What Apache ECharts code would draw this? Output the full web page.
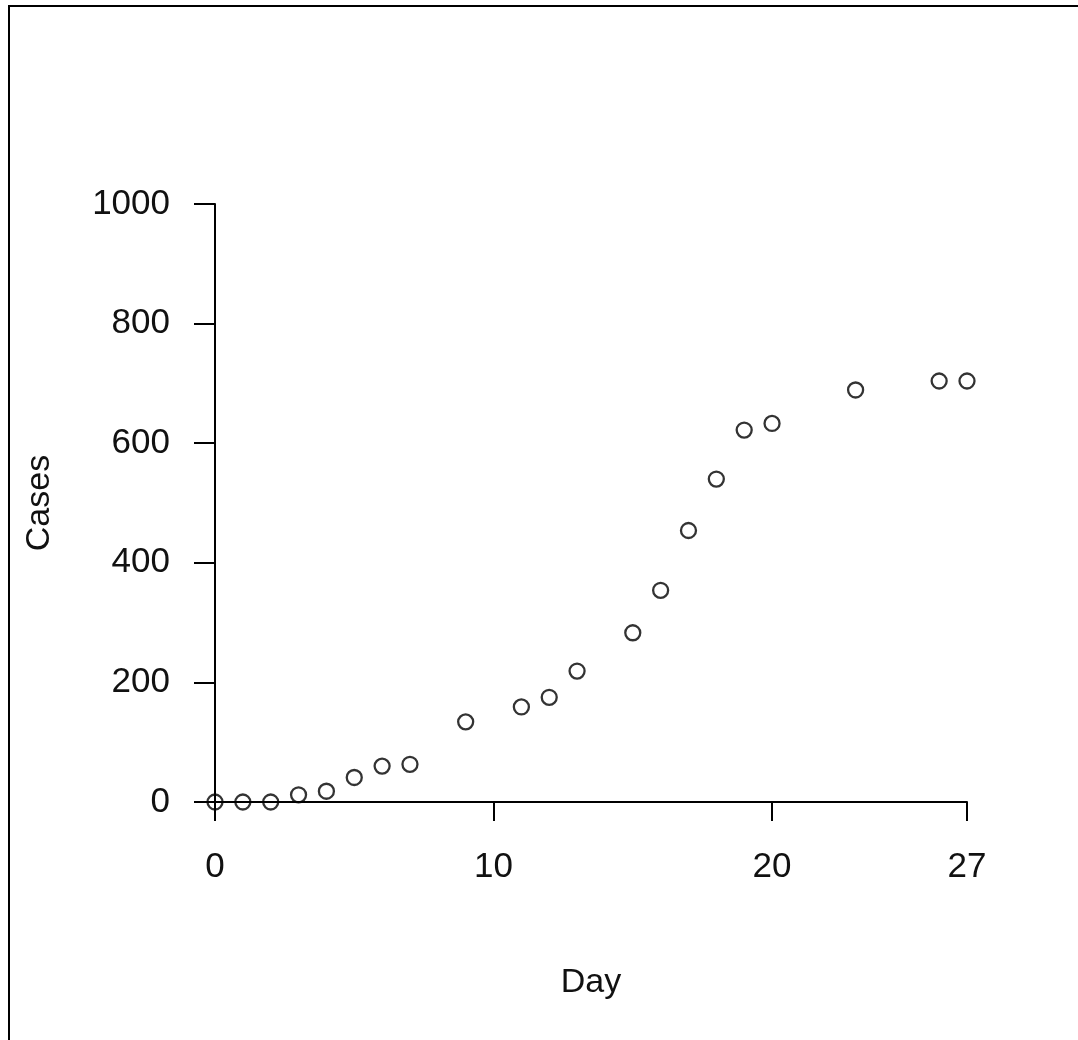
<!DOCTYPE html>
<html>
<head>
<meta charset="utf-8">
<script src="https://cdn.jsdelivr.net/npm/echarts@6/dist/echarts.min.js"></script>
<style>
  html, body { margin: 0; padding: 0; background: #fff; }
  #chart { width: 1078px; height: 1040px; }
</style>
</head>
<body>
<div id="chart"></div>
<script>
// Cumulative cases by day
const days  = [0, 1, 2, 3, 4, 5, 6, 7, 9, 11, 12, 13, 15, 16, 17, 18, 19, 20, 23, 26, 27];
const cases = [0, 0, 0, 12, 18, 41, 60, 63, 134, 159, 175, 219, 283, 354, 454, 540, 622, 633, 689, 704, 704];

// Axis ticks
const xTicks = [0, 10, 20, 27];
const yTicks = [0, 200, 400, 600, 800, 1000];

const points = days.map((d, i) => [d, cases[i]]);
const font = 'Liberation Sans, Arial, sans-serif';

const chart = echarts.init(document.getElementById('chart'), null, { renderer: 'canvas' });
chart.setOption({
  backgroundColor: '#ffffff',
  animation: false,
  grid: { left: 215, right: 111, top: 204, bottom: 238, containLabel: false },
  graphic: [{
    type: 'rect',
    silent: true,
    shape: { x: 9, y: 6, width: 1300, height: 1300 },
    style: { fill: 'none', stroke: '#000', lineWidth: 2 }
  }],
  xAxis: {
    type: 'value',
    min: 0,
    max: 27,
    name: 'Day',
    nameLocation: 'middle',
    nameGap: 164,
    nameTextStyle: { color: '#111', fontFamily: font, fontSize: 34 },
    splitLine: { show: false },
    axisLine: { show: true, onZero: false, lineStyle: { color: '#000', width: 2 } },
    axisTick: { show: true, customValues: xTicks, length: 19, lineStyle: { color: '#000', width: 2 } },
    axisLabel: { customValues: xTicks, margin: 48, color: '#111', fontFamily: font, fontSize: 35,
                 formatter: v => String(v) }
  },
  yAxis: {
    type: 'value',
    min: 0,
    max: 1000,
    interval: 200,
    name: 'Cases',
    nameLocation: 'middle',
    nameGap: 158,
    nameRotate: 90,
    nameTextStyle: { color: '#111', fontFamily: font, fontSize: 34 },
    splitLine: { show: false },
    axisLine: { show: true, onZero: false, lineStyle: { color: '#000', width: 2 } },
    axisTick: { show: true, customValues: yTicks, length: 21, lineStyle: { color: '#000', width: 2 } },
    axisLabel: { customValues: yTicks, margin: 45, color: '#111', fontFamily: font, fontSize: 35,
                 padding: [6, 0, 0, 0], formatter: v => String(v) }
  },
  series: [{
    type: 'scatter',
    data: points,
    symbol: 'circle',
    symbolSize: 15,
    itemStyle: { color: 'rgba(0,0,0,0)', borderColor: '#000', borderWidth: 2.3 },
    emphasis: { disabled: true }
  }]
});
</script>
</body>
</html>
